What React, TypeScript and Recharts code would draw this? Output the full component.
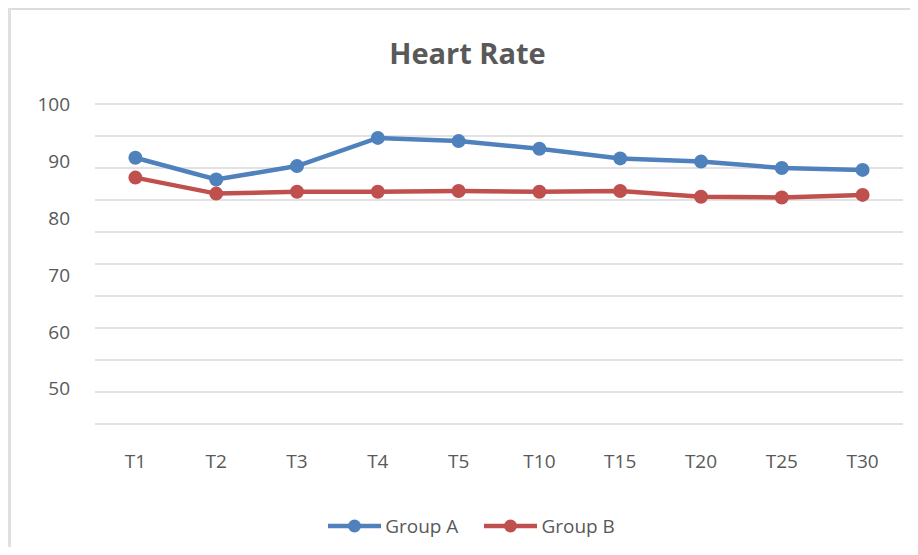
import React from 'react';
import { LineChart, Line, XAxis, YAxis, CartesianGrid, Legend } from 'recharts';

const categories = ['T1', 'T2', 'T3', 'T4', 'T5', 'T10', 'T15', 'T20', 'T25', 'T30'];
const groupA = [91.6, 88.2, 90.3, 94.7, 94.2, 93.0, 91.5, 91.0, 90.0, 89.7];
const groupB = [88.5, 86.0, 86.3, 86.3, 86.4, 86.3, 86.4, 85.5, 85.4, 85.8];
const gridTicks = [50, 55, 60, 65, 70, 75, 80, 85, 90, 95, 100];
const labelTicks = [50, 60, 70, 80, 90, 100];
const seriesNames = ['Group A', 'Group B'];
const seriesColors = ['#4f81bd', '#c0504d'];

const data = categories.map((c, i) => ({ name: c, a: groupA[i], b: groupB[i] }));

const FONT = '"Open Sans", sans-serif';
const TEXT = '#595959';

const W = 905;
const H = 539;

const renderLegend = (props: any) => {
  const payload = props.payload || [];
  return (
    <div
      style={{
        display: 'flex',
        justifyContent: 'center',
        alignItems: 'center',
        height: 26,
        paddingLeft: 22,
        fontFamily: FONT,
        fontSize: 19,
        color: TEXT,
      }}
    >
      {payload.map((p: any, i: number) => (
        <div key={i} style={{ display: 'flex', alignItems: 'center', marginLeft: i === 0 ? 0 : 26 }}>
          <svg width={53} height={14} style={{ display: 'block' }}>
            <line x1={0} y1={7} x2={53} y2={7} stroke={p.color} strokeWidth={4.5} />
            <circle cx={26.5} cy={7} r={6.5} fill={p.color} />
          </svg>
          <span style={{ marginLeft: 4, lineHeight: '26px' }}>{p.value}</span>
        </div>
      ))}
    </div>
  );
};

export default function App() {
  return (
    <div style={{ position: 'relative', width: W, height: H, background: '#fff' }}>
      <div style={{ position: 'absolute', left: 0, top: 0, width: W, height: 2, background: '#dcdcdc' }} />
      <div style={{ position: 'absolute', left: 0, top: 0, width: 3, height: H, background: '#e0e0e0' }} />
      <div
        style={{
          position: 'absolute',
          left: 0,
          top: 30,
          width: W,
          paddingLeft: 14,
          boxSizing: 'border-box',
          textAlign: 'center',
          fontFamily: FONT,
          fontWeight: 700,
          fontSize: 29,
          lineHeight: '30px',
          color: TEXT,
          zIndex: 2,
        }}
      >
        Heart Rate
      </div>
      <LineChart
        width={W}
        height={H}
        data={data}
        margin={{ top: 96, right: 10, bottom: 47, left: 0 }}
      >
        <CartesianGrid yAxisId="grid" vertical={false} stroke="#d9d9d9" strokeWidth={1.5} />
        <XAxis
          dataKey="name"
          scale="band"
          axisLine={false}
          tickLine={false}
          tickSize={0}
          tickMargin={31}
          height={50}
          interval={0}
          tick={{ fill: TEXT, fontSize: 19, fontFamily: FONT }}
        />
        <YAxis
          yAxisId="labels"
          domain={[43.8, 100]}
          ticks={labelTicks}
          allowDataOverflow
          axisLine={false}
          tickLine={false}
          tickSize={0}
          tickMargin={25}
          width={87}
          tick={{ fill: TEXT, fontSize: 19, fontFamily: FONT }}
        />
        <YAxis yAxisId="grid" domain={[50, 100]} ticks={gridTicks} width={0} hide />
        <Legend
          verticalAlign="bottom"
          content={renderLegend}
          wrapperStyle={{ top: 505, bottom: 'auto', left: 0, width: W, height: 26 }}
        />
        <Line
          yAxisId="grid"
          dataKey="a"
          name={seriesNames[0]}
          stroke={seriesColors[0]}
          strokeWidth={4.5}
          dot={{ r: 7, fill: seriesColors[0], stroke: seriesColors[0], strokeWidth: 0 }}
          activeDot={false}
          isAnimationActive={false}
        />
        <Line
          yAxisId="grid"
          dataKey="b"
          name={seriesNames[1]}
          stroke={seriesColors[1]}
          strokeWidth={4.5}
          dot={{ r: 7, fill: seriesColors[1], stroke: seriesColors[1], strokeWidth: 0 }}
          activeDot={false}
          isAnimationActive={false}
        />
      </LineChart>
    </div>
  );
}
